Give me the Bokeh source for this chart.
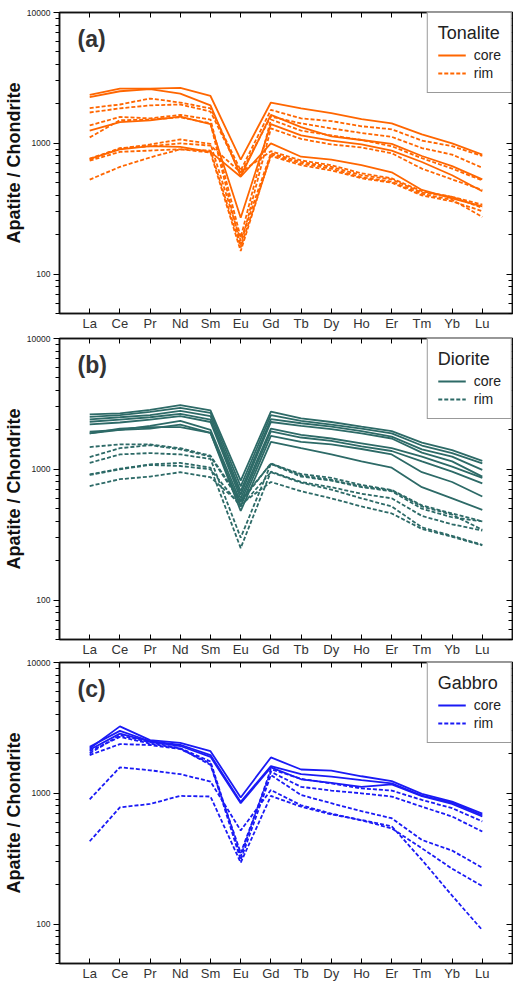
from bokeh.plotting import figure
from bokeh.models import (Range1d, FixedTicker, LinearAxis, LogAxis, Legend, LegendItem, Label,
                          BasicTickFormatter)
from bokeh.layouts import column
from bokeh.embed import file_html
from bokeh.resources import INLINE

ELEMENTS = ["La", "Ce", "Pr", "Nd", "Sm", "Eu", "Gd", "Tb", "Dy", "Ho", "Er", "Tm", "Yb", "Lu"]
Y_TICKS = [100, 1000, 10000]

# (a) Tonalite
tonalite_core = [
    [2350, 2620, 2620, 2650, 2300, 750, 2050, 1850, 1700, 1530, 1420, 1170, 1000, 820],
    [2250, 2500, 2600, 2400, 1950, 560, 1650, 1330, 1130, 1060, 990, 800, 670, 530],
    [1250, 1450, 1500, 1600, 1400, 270, 1400, 1150, 1050, 980, 880, 720, 570, 430],
    [760, 900, 950, 940, 860, 555, 1000, 790, 750, 680, 600, 440, 380, 330],
]
tonalite_rim = [
    [1860, 1980, 2200, 2050, 1850, 620, 1800, 1550, 1480, 1350, 1280, 1050, 950, 800],
    [1720, 1850, 1950, 1980, 1750, 590, 1600, 1420, 1300, 1200, 1120, 920, 820, 650],
    [1370, 1590, 1550, 1650, 1520, 190, 1520, 1250, 1150, 1060, 950, 770, 640, 520],
    [1110, 1500, 1520, 1580, 1420, 165, 1300, 1080, 980, 930, 840, 640, 530, 440],
    [764, 910, 980, 1070, 990, 180, 840, 720, 660, 570, 530, 420, 390, 340],
    [737, 860, 880, 900, 880, 160, 800, 680, 620, 540, 500, 400, 360, 303],
    [528, 660, 780, 900, 850, 150, 820, 700, 640, 550, 510, 410, 370, 274],
    [750, 920, 950, 1000, 960, 600, 870, 740, 680, 590, 540, 430, 390, 321],
]

# (b) Diorite
diorite_core = [
    [2630, 2680, 2850, 3100, 2820, 820, 2760, 2450, 2300, 2120, 1960, 1600, 1400, 1160],
    [2520, 2600, 2750, 2950, 2700, 740, 2600, 2350, 2200, 2050, 1880, 1520, 1330, 1110],
    [2410, 2500, 2600, 2800, 2550, 680, 2420, 2250, 2120, 1960, 1780, 1420, 1250, 990],
    [2310, 2400, 2500, 2650, 2400, 640, 2300, 2150, 2030, 1880, 1720, 1340, 1150, 880],
    [2205, 2280, 2400, 2550, 2300, 600, 2050, 1830, 1720, 1580, 1450, 1250, 1050, 860],
    [1940, 2000, 2150, 2350, 2000, 560, 1950, 1750, 1650, 1500, 1380, 1150, 960, 780],
    [1880, 2000, 2050, 2200, 1900, 520, 1800, 1620, 1550, 1430, 1300, 950, 800, 620],
    [1880, 2050, 2100, 2100, 1900, 480, 1620, 1450, 1300, 1150, 1030, 730, 600, 490],
]
diorite_rim = [
    [1480, 1550, 1550, 1450, 1270, 580, 1100, 920, 860, 760, 695, 530, 460, 400],
    [1240, 1450, 1530, 1420, 1250, 560, 1110, 900, 830, 740, 690, 520, 450, 345],
    [1120, 1300, 1330, 1300, 1200, 300, 1100, 880, 820, 730, 680, 500, 430, 400],
    [915, 1010, 1090, 1120, 1030, 250, 960, 800, 730, 650, 600, 440, 380, 340],
    [905, 1000, 1080, 1060, 1000, 520, 950, 790, 700, 600, 520, 360, 310, 265],
    [745, 840, 880, 950, 870, 540, 800, 680, 600, 520, 460, 350, 305, 262],
]

# (c) Gabbro
gabbro_core = [
    [2200, 3250, 2550, 2430, 2100, 930, 1880, 1520, 1490, 1350, 1240, 990, 865, 700],
    [2270, 3000, 2500, 2350, 1960, 860, 1615, 1400, 1340, 1260, 1190, 960, 850, 680],
    [2150, 2860, 2480, 2300, 1900, 840, 1580, 1280, 1200, 1120, 1170, 950, 830, 665],
]
gabbro_rim = [
    [2020, 2780, 2450, 2210, 1750, 330, 1530, 1290, 1190, 1090, 1050, 890, 770, 610],
    [1960, 2380, 2340, 2180, 1690, 310, 1380, 970, 840, 730, 645, 440, 365, 270],
    [900, 1580, 1500, 1400, 1230, 520, 1060, 810, 700, 620, 540, 380, 265, 195],
    [430, 780, 830, 955, 945, 295, 955, 790, 690, 625, 560, 310, 165, 90],
    [2100, 2700, 2400, 2200, 1650, 350, 1460, 1120, 1050, 1000, 945, 790, 665, 510],
]

FONT = "Liberation Sans"
X_POS = list(range(1, len(ELEMENTS) + 1))
Y_MINOR = [m * 10 ** e for e in (1, 2, 3) for m in range(2, 10) if 50 <= m * 10 ** e <= 10000]


def panel(tag, rock, color, cores, rims, top, bottom):
    p = figure(width=513, height=top + 302 + bottom,
               x_range=Range1d(0, len(ELEMENTS) + 1), y_range=Range1d(50, 10000),
               y_axis_type="log", output_backend="svg", toolbar_location=None,
               min_border_left=58, min_border_right=1, min_border_top=top, min_border_bottom=bottom)
    p.grid.visible = False
    p.outline_line_color = "#111"
    p.outline_line_width = 1.5
    p.background_fill_color = "white"

    core_r = [p.line(X_POS, v, line_color=color, line_width=1.8) for v in cores]
    rim_r = [p.line(X_POS, v, line_color=color, line_width=1.8, line_dash="4 2") for v in rims]

    xa = p.xaxis[0]
    xa.ticker = FixedTicker(ticks=X_POS)
    xa.major_label_overrides = {i: e for i, e in zip(X_POS, ELEMENTS)}
    xa.major_tick_in = 5
    xa.major_tick_out = 0
    xa.minor_tick_in = 0
    xa.minor_tick_out = 0
    xa.major_label_standoff = 2
    xa.major_label_text_font = FONT
    xa.major_label_text_font_size = "13px"
    xa.major_label_text_color = "#333"
    xa.axis_line_color = "#111"
    xa.axis_line_width = 1.5
    xa.major_tick_line_color = "black"
    xa.major_tick_line_width = 1

    ya = p.yaxis[0]
    ya.ticker = FixedTicker(ticks=Y_TICKS, minor_ticks=Y_MINOR)
    ya.formatter = BasicTickFormatter(use_scientific=False)
    ya.major_tick_out = 6
    ya.major_tick_in = 0
    ya.minor_tick_out = 4
    ya.minor_tick_in = 0
    ya.minor_tick_line_color = "black"
    ya.minor_tick_line_width = 1
    ya.major_tick_line_color = "black"
    ya.major_tick_line_width = 1
    ya.major_label_standoff = 3
    ya.major_label_text_font = FONT
    ya.major_label_text_font_size = "8.5px"
    ya.major_label_text_color = "#222"
    ya.axis_label = "Apatite / Chondrite"
    ya.axis_label_text_font = FONT
    ya.axis_label_text_font_size = "18px"
    ya.axis_label_text_font_style = "bold"
    ya.axis_label_text_color = "#111"
    ya.axis_label_standoff = 0
    ya.axis_line_color = "#111"
    ya.axis_line_width = 1.5

    top_ax = LinearAxis(ticker=FixedTicker(ticks=X_POS), major_label_text_font_size="1px",
                        major_label_text_alpha=0,
                        major_tick_in=5, major_tick_out=0, minor_tick_in=0, minor_tick_out=0,
                        major_label_standoff=0, axis_line_color="#111", axis_line_width=1.5,
                        major_tick_line_color="black", major_tick_line_width=1)
    p.add_layout(top_ax, "above")
    right_ax = LogAxis(ticker=FixedTicker(ticks=Y_TICKS, minor_ticks=Y_MINOR), major_label_text_font_size="1px",
                       major_label_text_alpha=0,
                       major_tick_in=6, major_tick_out=0, minor_tick_in=4, minor_tick_out=0,
                       minor_tick_line_color="black", minor_tick_line_width=1,
                       major_tick_line_color="black", major_tick_line_width=1,
                       major_label_standoff=0, axis_line_color="#111", axis_line_width=1.5)
    p.add_layout(right_ax, "right")

    legend = Legend(items=[LegendItem(label="core", renderers=[core_r[0]]),
                           LegendItem(label="rim", renderers=[rim_r[0]])],
                    location="top_right", title=rock,
                    title_text_font=FONT, title_text_font_size="18px", title_text_font_style="normal",
                    title_text_color="#222", title_standoff=2,
                    label_text_font=FONT, label_text_font_size="14px", label_text_color="#222",
                    border_line_color="#333", border_line_width=1.2, background_fill_alpha=1,
                    margin=0, padding=10, spacing=0, glyph_width=28, glyph_height=18, label_standoff=8,
                    label_height=18)
    p.add_layout(legend)

    p.add_layout(Label(x=0.6, y=6300, text=f"({tag})", text_font=FONT, text_font_size="23px",
                       text_font_style="bold", text_color="#333", text_baseline="middle"))
    return p


pa = panel("a", "Tonalite", "#FF6600", tonalite_core, tonalite_rim, 12, 19)
pb = panel("b", "Diorite", "#2D6A67", diorite_core, diorite_rim, 5, 19)
pc = panel("c", "Gabbro", "#1A1AF5", gabbro_core, gabbro_rim, 3, 19)

layout = column(pa, pb, pc, spacing=0)
open("out.html", "w").write(file_html(layout, INLINE))
